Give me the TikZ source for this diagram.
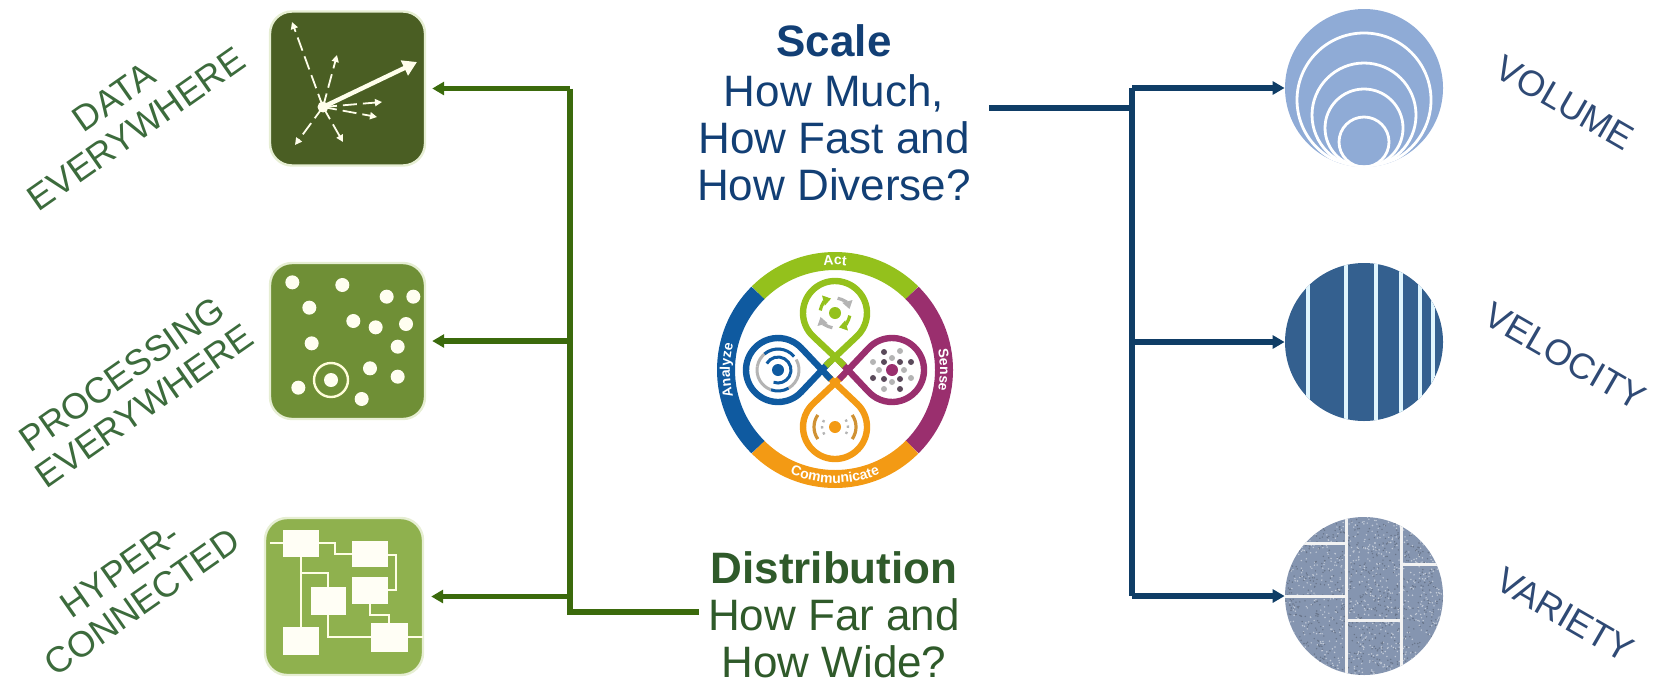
\documentclass[tikz,border=0pt]{standalone}
\usepackage{fontspec}
\setmainfont{Liberation Sans}
\usetikzlibrary{arrows.meta,calc,decorations.text}
\definecolor{gline}{HTML}{3B6A0C}
\definecolor{bline}{HTML}{0F3D66}
\definecolor{gtext}{HTML}{2F5A2A}
\definecolor{stext}{HTML}{123F75}
\definecolor{ltext}{HTML}{3C6B3C}
\definecolor{rtext}{HTML}{2F4A75}
\definecolor{sqa}{HTML}{4A5E23}
\definecolor{sqb}{HTML}{6F8F36}
\definecolor{sqc}{HTML}{8FB14E}
\definecolor{pale}{HTML}{E6EED3}
\definecolor{cva}{HTML}{8FABD6}
\definecolor{cvb}{HTML}{34608F}
\definecolor{cvc}{HTML}{8595B0}
\definecolor{lgreen}{HTML}{94C11C}
\definecolor{lpurple}{HTML}{9A2F6E}
\definecolor{lorange}{HTML}{F39A14}
\definecolor{lblue}{HTML}{0F5AA0}
\definecolor{lgrey}{HTML}{B4B4B4}
\definecolor{ldark}{HTML}{5A4A5A}
\tikzset{
  sqbox/.style={draw=pale,line width=1.2pt,rounded corners=11pt,inner sep=0pt},
  rcirc/.style={circle,inner sep=0pt,minimum size=79pt},
  ctext/.style={align=center,inner sep=0pt,font=\fontsize{22}{23.6}\selectfont},
  slabel/.style={align=center,inner sep=0pt,font=\fontsize{18}{19.5}\selectfont},
  garrow/.style={gline,line width=2.7pt,-{Triangle[length=6pt,width=6.5pt]}},
  barrow/.style={bline,line width=2.7pt,-{Triangle[length=6pt,width=6.5pt]}},
  gtrunk/.style={gline,line width=2.7pt},
  btrunk/.style={bline,line width=2.7pt},
  wdash/.style={draw=white!92!yellow,line width=.9pt,dash pattern=on 7pt off 3pt,-{Triangle[length=3.5pt,width=3.5pt]}},
  netl/.style={draw=white!90!yellow,line width=1.1pt},
  netb/.style={fill=white!96!yellow,inner sep=0pt},
  wline/.style={white!88!cyan,line width=1.6pt},
  ringseg/.style={line width=9pt},
  ringtext/.style={decorate,decoration={text along path,text align=center,
     text={|\fontsize{7}{8}\bfseries\color{white}|#1}}},
}
\newcommand{\lgdrop}[3]{% angle, colour, name
  \coordinate (#3a) at ($(lc)+(#1:13)$);
  \coordinate (#3c) at ($(#3a)+(#1:44)$);
  \coordinate (#3t) at ($(#3c)+(#1+180+43.3:32)$);
  \coordinate (#3u) at ($(#3c)+(#1+180-43.3:32)$);
  \draw[#2,line width=3.2pt,line join=round]
     ($(#3t)!1.42!(#3a)$) -- (#3t) arc[start angle=#1+180+43.3,end angle=#1+540-43.3,radius=32]
     -- ($(#3u)!1.42!(#3a)$);
}
\begin{document}
\begin{tikzpicture}[x=.5pt,y=-.5pt]
\useasboundingbox (0,0) rectangle (1657,685);
% ---------- left squares
\node[sqbox,fill=sqa,minimum width=77.5pt,minimum height=77pt] (sqA) at (347.5,88.5) {};
\node[sqbox,fill=sqb,minimum width=77.5pt,minimum height=78pt] (sqB) at (347.5,341) {};
\node[sqbox,fill=sqc,minimum width=79pt,minimum height=78.5pt] (sqC) at (344,596.5) {};
% data everywhere icon
\coordinate (o) at (323,107);
\foreach \px/\py in {292/22,337/55,382/102,377/117,343/142,295/145}
  \draw[wdash] (o) -- (\px,\py);
\draw[white!92!yellow,line width=2.2pt,-{Triangle[length=7pt,width=8pt]}] (o) -- (417,62);
\fill[white!92!yellow] (o) circle[radius=5.5];
% processing icon
\foreach \px/\py in {157/127,307/135,440/170,520/170,208/203,340/243,407/262,498/252,215/310,473/320,390/385,473/410,273/420,175/443,365/477}
  \fill[white!94!yellow] ({240+\px/3},{240+\py/3}) circle[radius=7];
\draw[white!85!yellow,line width=1.2pt] ({240+273/3},{240+420/3}) circle[radius=17];
% network icon
\draw[netl] (270,543) -- (335,543) -- (335,554) -- (370,554);
\draw[netl] (370,555) -- (396,555) -- (396,590) -- (370,590);
\draw[netl] (301,543) -- (301,640);
\draw[netl] (301,573) -- (328,573) -- (328,600);
\draw[netl] (328,600) -- (328,637) -- (390,637);
\draw[netl] (370,590) -- (370,615) -- (389,615) -- (389,637);
\draw[netl] (390,637) -- (423,637);
\foreach \xa/\ya/\xb/\yb in {283/530/319/557,352/541/388/567,352/577/388/604,311/587/346/615,283/627/319/655,371/623/408/652}
  \fill[netb] (\xa,\ya) rectangle (\xb,\yb);
% ---------- right circles
\node[rcirc,fill=cva] (cA) at (1364,88) {};
\node[rcirc,fill=cvb] (cB) at (1364,342) {};
\node[rcirc,fill=cvc] (cC) at (1364,596) {};
\begin{scope}
  \clip (cA.center) circle[radius=79];
  \foreach \rr in {67,52,39,25}
    \draw[white,line width=1.4pt] (1364,{167-\rr}) circle[radius=\rr];
\end{scope}
\begin{scope}
  \clip (cB.center) circle[radius=79];
  \foreach \lx in {1308,1346,1376,1401,1420,1433}
    \draw[wline] (\lx,255) -- (\lx,430);
\end{scope}
\begin{scope}
  \clip (cC.center) circle[radius=79];
  \pgfmathsetseed{4217}
  \foreach \i in {1,...,800}{
    \pgfmathsetmacro\rx{1285+158*rnd}
    \pgfmathsetmacro\ry{517+158*rnd}
    \fill[white!50!cvc] (\rx,\ry) circle[radius=.8];
    \pgfmathsetmacro\rx{1285+158*rnd}
    \pgfmathsetmacro\ry{517+158*rnd}
    \fill[black!22!cvc] (\rx,\ry) circle[radius=.8];
  }
  \draw[white!90!gray,line width=1.5pt]
    (1346,510) -- (1346,680) (1401,510) -- (1401,680)
    (1280,543) -- (1346,543) (1280,596) -- (1346,596)
    (1346,620) -- (1401,620) (1401,564) -- (1450,564);
\end{scope}
% ---------- connectors
\coordinate (gtop) at (570,88.5);
\coordinate (gmid) at (570,341);
\coordinate (glow) at (570,596.5);
\coordinate (gbot) at (570,612);
\coordinate (dstart) at (699,612);
\draw[gtrunk] (gtop) -- (gbot) -- (dstart);
\draw[garrow,shorten >=3pt] (gtop) -- (sqA.east);
\draw[garrow,shorten >=3pt] (gmid) -- (sqB.east);
\draw[garrow,shorten >=3.5pt] (glow) -- (sqC.east);
\coordinate (btop) at (1132,88);
\coordinate (bmid) at (1132,342);
\coordinate (bbot) at (1132,596);
\coordinate (bjoin) at (1132,108);
\coordinate (sstart) at (989,108);
\draw[btrunk] (btop) -- (bbot);
\draw[btrunk] (sstart) -- (bjoin);
\draw[barrow] (btop) -- (cA.west);
\draw[barrow] (bmid) -- (cB.west);
\draw[barrow] (bbot) -- (cC.west);
% ---------- centre text
\node[ctext,text=stext] (scale) at (834,113) {\textbf{Scale}\\[1pt]How Much,\\How Fast and\\How Diverse?};
\node[ctext,text=gtext] (dist) at (834,615) {\textbf{Distribution}\\How Far and\\How Wide?};
% ---------- side labels
\node[slabel,text=ltext,rotate=35] (l1) at (125,113) {DATA\\EVERYWHERE};
\node[slabel,text=ltext,rotate=35] (l2) at (133,390) {PROCESSING\\EVERYWHERE};
\node[slabel,text=ltext,rotate=35] (l3) at (131,586) {HYPER-\\CONNECTED};
\node[slabel,text=rtext,rotate=-30] (r1) at (1565,103) {VOLUME};
\node[slabel,text=rtext,rotate=-30] (r2) at (1565,356) {VELOCITY};
\node[slabel,text=rtext,rotate=-30] (r3) at (1565,615) {VARIETY};
% ---------- logo
\coordinate (lc) at (835,370);
\draw[ringseg,lgreen]  ($(lc)+(-135:109)$) arc[start angle=-135,end angle=-45,radius=109];
\draw[ringseg,lpurple] ($(lc)+(-45:109)$) arc[start angle=-45,end angle=45,radius=109];
\draw[ringseg,lorange] ($(lc)+(45:109)$) arc[start angle=45,end angle=135,radius=109];
\draw[ringseg,lblue]   ($(lc)+(135:109)$) arc[start angle=135,end angle=225,radius=109];
\path[ringtext=Act] ($(lc)+(-115:105)$) arc[start angle=-115,end angle=-65,radius=105];
\path[ringtext=Sense] ($(lc)+(-25:105)$) arc[start angle=-25,end angle=25,radius=105];
\path[ringtext=Communicate] ($(lc)+(130:113)$) arc[start angle=130,end angle=50,radius=113];
\path[ringtext=Analyze] ($(lc)+(150:105)$) arc[start angle=150,end angle=210,radius=105];
\lgdrop{90}{lorange}{dO}
\lgdrop{0}{lpurple}{dP}
\lgdrop{180}{lblue}{dB}
\lgdrop{-90}{lgreen}{dG}
% green icon
\fill[lgreen] (dGc) circle[radius=6];
\foreach \st/\cl in {-170/lgreen,-80/lgrey,10/lgreen,100/lgrey}
  \draw[\cl,line width=1.6pt,-{Triangle[length=4pt,width=5pt]}]
    ($(dGc)+(\st:15)$) arc[start angle=\st,end angle=\st+65,radius=15];
% blue icon
\fill[lblue] (dBc) circle[radius=6];
\draw[lblue,line width=1.5pt] ($(dBc)+(-150:13)$) arc[start angle=-150,end angle=110,radius=13];
\draw[lgrey,line width=1.5pt] ($(dBc)+(-170:21)$) arc[start angle=-170,end angle=-80,radius=21];
\draw[lblue,line width=1.5pt] ($(dBc)+(-130:21)$) arc[start angle=-130,end angle=-40,radius=21];
\draw[lgrey,line width=1.5pt] ($(dBc)+(-30:21)$) arc[start angle=-30,end angle=60,radius=21];
\draw[lblue,line width=1.5pt] ($(dBc)+(60:21)$) arc[start angle=60,end angle=110,radius=21];
\draw[lgrey,line width=1.5pt] ($(dBc)+(110:21)$) arc[start angle=110,end angle=190,radius=21];
% purple icon
\fill[lpurple] (dPc) circle[radius=6];
\foreach \dx/\dy in {-8/-8,8/-8,-8/9,8/9,-8/-18,19/-8,-19/8,8/19}
  \fill[ldark] ($(dPc)+(\dx,\dy)$) circle[radius=3];
\foreach \dx/\dy in {0/-12,12/0,0/12,-13/0,8/-19,-19/-8,19/8,-8/19}
  \fill[lgrey] ($(dPc)+(\dx,\dy)$) circle[radius=3];
% orange icon
\fill[lorange] (dOc) circle[radius=6];
\foreach \st in {-35,145}{
  \draw[lgrey,line width=1.2pt,dotted] ($(dOc)+(\st:13)$) arc[start angle=\st,end angle=\st+70,radius=13];
  \draw[lorange!70!gray,line width=1.6pt] ($(dOc)+(\st:21)$) arc[start angle=\st,end angle=\st+70,radius=21];
}
\end{tikzpicture}
\end{document}
